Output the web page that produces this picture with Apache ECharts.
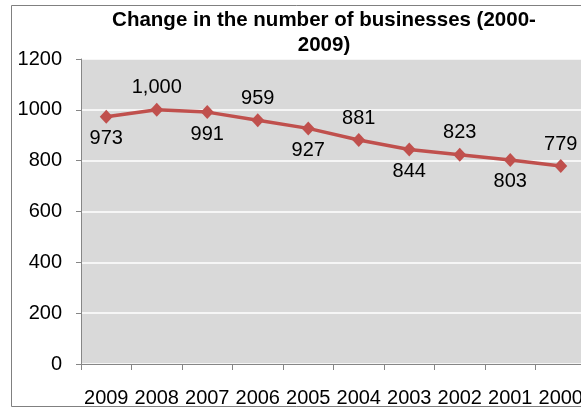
<!DOCTYPE html>
<html>
<head>
<meta charset="utf-8">
<script src="https://cdn.jsdelivr.net/npm/echarts@6/dist/echarts.min.js"></script>
<style>
  html, body { margin: 0; padding: 0; background: #fff; }
  #chart { width: 581px; height: 408px; }
</style>
</head>
<body>
<div id="chart"></div>
<script>
// Number of businesses per year, newest first
const years = ['2009', '2008', '2007', '2006', '2005', '2004', '2003', '2002', '2001', '2000'];
const businesses = [973, 1000, 991, 959, 927, 881, 844, 823, 803, 779];
const yTicks = [0, 200, 400, 600, 800, 1000, 1200];

const FONT = '"Liberation Sans", Arial, sans-serif';

const chart = echarts.init(document.getElementById('chart'), null, { renderer: 'canvas' });

// Alternate value labels below / above the points
const points = businesses.map((v, i) => ({
  value: v,
  label: { position: i % 2 === 0 ? 'bottom' : 'top' }
}));

chart.setOption({
  animation: false,
  backgroundColor: '#ffffff',
  title: {
    text: 'Change in the number of businesses (2000-\n2009)',
    left: 319,
    top: 3,
    textAlign: 'center',
    textStyle: {
      fontFamily: FONT,
      fontWeight: 'bold',
      fontSize: 20.5,
      lineHeight: 25,
      color: '#000'
    }
  },
  graphic: [{
    type: 'rect',
    shape: { x: 11.5, y: 5.5, width: 620, height: 401 },
    style: { fill: 'none', stroke: '#808080', lineWidth: 1 },
    z: 100
  }],
  grid: {
    left: 81, top: 59, width: 505, bottom: 44,
    outerBoundsMode: 'none',
    containLabel: false,
    show: true, backgroundColor: '#d9d9d9', borderWidth: 0
  },
  xAxis: {
    type: 'category',
    data: years,
    boundaryGap: true,
    axisLine: { show: true, lineStyle: { color: '#868686', width: 1 } },
    axisTick: { show: true, length: 6, lineStyle: { color: '#868686' } },
    axisLabel: { fontFamily: FONT, fontSize: 20, color: '#000', margin: 24, interval: 0, hideOverlap: false },
    splitLine: { show: false }
  },
  yAxis: {
    type: 'value',
    min: yTicks[0],
    max: yTicks[yTicks.length - 1],
    interval: yTicks[1] - yTicks[0],
    axisLine: { show: true, lineStyle: { color: '#868686', width: 1 } },
    axisTick: { show: true, length: 5, lineStyle: { color: '#868686' } },
    axisLabel: { fontFamily: FONT, fontSize: 20, color: '#000', margin: 19, formatter: v => String(v) },
    splitLine: { show: true, lineStyle: { color: '#ffffff', width: 1.5 } }
  },
  series: [{
    type: 'line',
    data: points,
    symbol: 'diamond',
    symbolSize: [13, 14],
    lineStyle: { color: '#c0504d', width: 3.5 },
    itemStyle: { color: '#c0504d' },
    label: {
      show: true,
      distance: 5,
      fontFamily: FONT,
      fontSize: 20,
      color: '#000',
      formatter: p => p.value.toLocaleString('en-US')
    }
  }]
});
</script>
</body>
</html>
